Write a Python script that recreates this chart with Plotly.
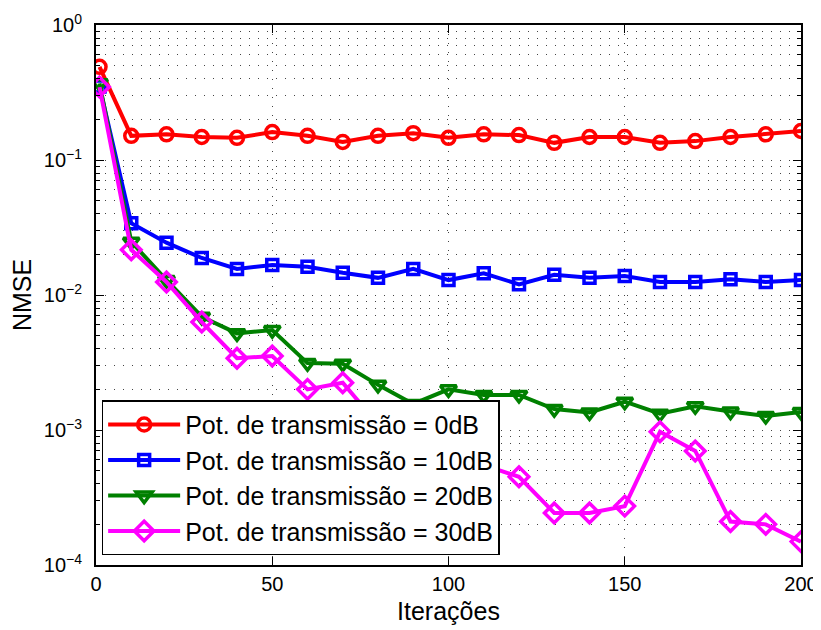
import plotly.graph_objects as go

iters = [1, 10, 20, 30, 40, 50, 60, 70, 80, 90, 100, 110, 120, 130, 140, 150, 160, 170, 180, 190, 200]

nmse_0db = [0.49, 0.151, 0.155, 0.148, 0.146, 0.161, 0.151, 0.136, 0.151, 0.158, 0.146,
            0.155, 0.153, 0.134, 0.148, 0.148, 0.134, 0.138, 0.148, 0.155, 0.164]
nmse_10db = [0.35, 0.034, 0.0244, 0.0188, 0.0156, 0.0167, 0.0162, 0.0146, 0.0134, 0.0156, 0.0129,
             0.0145, 0.0120, 0.0141, 0.0134, 0.0138, 0.0125, 0.0125, 0.0131, 0.0125, 0.0129]
nmse_20db = [0.37, 0.0248, 0.0129, 0.0069, 0.0052, 0.0055, 0.00313, 0.0031, 0.00216, 0.00156, 0.0020,
             0.00182, 0.00182, 0.00143, 0.00135, 0.00162, 0.00132, 0.00150, 0.00137, 0.00127, 0.00136]
nmse_30db = [0.347, 0.0216, 0.0125, 0.0063, 0.0034, 0.00353, 0.0020, 0.00224, 0.0011, 0.0008, 0.0007,
             0.00055, 0.00045, 0.000243, 0.000243, 0.000273, 0.00097, 0.0007, 0.00021, 0.0002, 0.000149]

series_names = ["Pot. de transmissão = 0dB", "Pot. de transmissão = 10dB",
                "Pot. de transmissão = 20dB", "Pot. de transmissão = 30dB"]
series_values = [nmse_0db, nmse_10db, nmse_20db, nmse_30db]
colors = ["#FF0000", "#0000FF", "#008000", "#FF00FF"]
symbols = ["circle-open", "square-open", "triangle-down-open", "diamond-open"]
sizes = [13, 11, 14, 15]

x_tick_vals = [0, 50, 100, 150, 200]
y_tick_vals = [1e-4, 1e-3, 1e-2, 1e-1, 1e0]
y_tick_text = ["10<sup>−4</sup>", "10<sup>−3</sup>", "10<sup>−2</sup>", "10<sup>−1</sup>", "10<sup>0</sup>"]
y_minor_vals = [m * d for d in [1e-4, 1e-3, 1e-2, 1e-1] for m in range(2, 10)]

fig = go.Figure()
for name, vals, c, s, sz in zip(series_names, series_values, colors, symbols, sizes):
    fig.add_trace(go.Scatter(
        x=iters, y=vals, name=name, mode="lines+markers",
        line=dict(color=c, width=4),
        marker=dict(symbol=s, size=sz, color=c, line=dict(color=c, width=3.5)),
    ))

font_family = "Liberation Sans, Arial, sans-serif"
grid_dash = "1px,8px"
grid_color = "#444444"
fig.update_layout(
    width=813, height=622,
    margin=dict(l=88, r=20, t=17, b=65),
    paper_bgcolor="white", plot_bgcolor="white",
    font=dict(family=font_family, size=20, color="black"),
    showlegend=True,
    legend=dict(
        x=0.008, y=0.018, xanchor="left", yanchor="bottom",
        bgcolor="white", bordercolor="black", borderwidth=1.5,
        font=dict(size=25, family=font_family, color="black"),
        itemwidth=72, tracegroupgap=0,
    ),
)
fig.update_xaxes(
    range=[0, 200], tickvals=x_tick_vals, automargin=False,
    showline=True, linecolor="black", linewidth=2, mirror="ticks",
    ticks="inside", ticklen=8, tickcolor="black", tickwidth=1,
    showgrid=True, gridcolor=grid_color, gridwidth=1, griddash=grid_dash,
    zeroline=False,
    tickfont=dict(size=20),
    title=dict(text="Iterações", font=dict(size=25), standoff=8),
)
fig.update_yaxes(
    type="log", range=[-4, 0], tickvals=y_tick_vals, ticktext=y_tick_text, automargin=False,
    showline=True, linecolor="black", linewidth=2, mirror="ticks",
    ticks="inside", ticklen=8, tickcolor="black", tickwidth=1,
    showgrid=True, gridcolor=grid_color, gridwidth=1, griddash=grid_dash,
    minor=dict(tickvals=y_minor_vals, ticks="inside", ticklen=4, tickcolor="black", showgrid=True,
               gridcolor=grid_color, gridwidth=1, griddash=grid_dash),
    zeroline=False,
    tickfont=dict(size=20),
    ticklabelstandoff=8,
    title=dict(text="NMSE", font=dict(size=25), standoff=8),
)

fig.write_html("out.html")
